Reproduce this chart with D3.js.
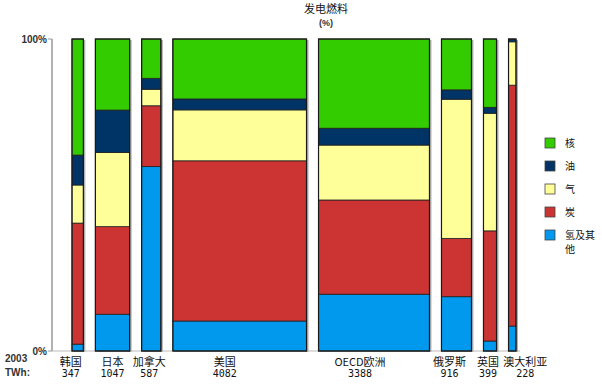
<!DOCTYPE html>
<meta charset="utf-8">
<style>
  body { margin: 0; background: #fff; }
  .cn { font-family: 'Noto Sans CJK SC', sans-serif; font-size: 11px; fill: #111; }
  .num { font-family: 'DejaVu Sans Mono', monospace; font-size: 10px; fill: #111; }
  .axlab { font-family: 'Liberation Sans', Arial, sans-serif; font-size: 10px; font-weight: bold; fill: #333; }
</style>
<script src="https://d3js.org/d3.v7.min.js"></script>
<div id="chart"></div>
<script>
// countries and 2003 generation (TWh) -> bar widths
var countries = ["韩国", "日本", "加拿大", "美国", "OECD欧洲", "俄罗斯", "英国", "澳大利亚"];
var twh = [347, 1047, 587, 4082, 3388, 916, 399, 228];

// fuel shares (%), bottom to top
var hydro   = [2.2, 11.8, 59.1, 9.6, 18.2, 17.4, 3.2, 8.0];
var coal    = [38.8, 28.1, 19.5, 51.3, 30.2, 18.7, 35.3, 77.2];
var gas     = [12.2, 23.8, 5.3, 16.3, 17.6, 44.6, 37.7, 13.9];
var oil     = [9.6, 13.6, 3.5, 3.5, 5.4, 3.0, 1.9, 0.9];
var nuclear = [37.2, 22.8, 12.6, 19.2, 28.6, 16.3, 21.9, 0];

var fuelKeys = ["hydro", "coal", "gas", "oil", "nuclear"];
var fuelNames = {nuclear: "核", oil: "油", gas: "气", coal: "炭", hydro: "氢及其他"};
var fuelColors = {nuclear: "#33cc00", oil: "#003366", gas: "#ffff99", coal: "#cc3333", hydro: "#0099ee"};
var yTicks = [0, 100];

// label nudges so names don't collide (px)
var labelShift = [-7, 0, -2, -15, -14, -7, -2, 13];

var W = 602, H = 388;
var plotLeft = 72, plotRight = 516, plotTop = 39, plotBottom = 351, gap = 12;

var svg = d3.select("#chart").append("svg")
  .attr("width", W).attr("height", H);

// build table
var rows = countries.map(function(c, i) {
  var tot = hydro[i] + coal[i] + gas[i] + oil[i] + nuclear[i];
  return {
    name: c, twh: twh[i], i: i,
    hydro: hydro[i] / tot * 100, coal: coal[i] / tot * 100, gas: gas[i] / tot * 100,
    oil: oil[i] / tot * 100, nuclear: nuclear[i] / tot * 100
  };
});

var totalTwh = d3.sum(twh);
var w = d3.scaleLinear()
  .domain([0, totalTwh])
  .range([0, plotRight - plotLeft - gap * (countries.length - 1)]);

var cum = 0;
rows.forEach(function(d, i) {
  d.x0 = plotLeft + w(cum) + i * gap;
  cum += d.twh;
  d.x1 = plotLeft + w(cum) + i * gap;
});

var y = d3.scaleLinear().domain([0, 100]).range([plotBottom, plotTop]);

// title
svg.append("text").attr("class", "cn")
  .attr("x", 326).attr("y", 13).attr("text-anchor", "middle")
  .style("font-size", "11px")
  .text("发电燃料");
svg.append("text").attr("class", "axlab")
  .attr("x", 326).attr("y", 26).attr("text-anchor", "middle")
  .style("font-size", "9px")
  .text("(%)");

// axis
svg.append("line")
  .attr("x1", 52).attr("x2", 52).attr("y1", y(100)).attr("y2", y(0))
  .attr("stroke", "#999").attr("stroke-width", 1.5);
svg.append("line")
  .attr("x1", 52).attr("x2", 520).attr("y1", y(0)).attr("y2", y(0))
  .attr("stroke", "#bbb").attr("stroke-width", 1);

yTicks.forEach(function(t) {
  svg.append("line")
    .attr("x1", 48).attr("x2", 52).attr("y1", y(t)).attr("y2", y(t))
    .attr("stroke", "#999");
  svg.append("text").attr("class", "axlab")
    .attr("x", 47).attr("y", y(t) + 4).attr("text-anchor", "end")
    .text(t + "%");
});

// bar shadows
svg.append("g").selectAll("rect")
  .data(rows).enter().append("rect")
    .attr("x", function(d) { return d.x0 + 2; })
    .attr("y", y(100) + 1)
    .attr("width", function(d) { return d.x1 - d.x0; })
    .attr("height", y(0) - y(100))
    .attr("fill", "#b0b0b0");

// stacked segments
var series = d3.stack().keys(fuelKeys)(rows);
svg.append("g").selectAll("g")
  .data(series).enter().append("g")
    .attr("fill", function(s) { return fuelColors[s.key]; })
  .selectAll("rect")
  .data(function(s) { return s; }).enter().append("rect")
    .attr("x", function(d) { return d.data.x0; })
    .attr("y", function(d) { return y(d[1]); })
    .attr("width", function(d) { return d.data.x1 - d.data.x0; })
    .attr("height", function(d) { return y(d[0]) - y(d[1]); })
    .attr("stroke", "#222").attr("stroke-width", 0.8);

// bar outlines
svg.append("g").selectAll("rect")
  .data(rows).enter().append("rect")
    .attr("x", function(d) { return d.x0; })
    .attr("y", y(100))
    .attr("width", function(d) { return d.x1 - d.x0; })
    .attr("height", y(0) - y(100))
    .attr("fill", "none")
    .attr("stroke", "#1a1a1a").attr("stroke-width", 1.2);

// bottom labels
svg.append("text").attr("class", "axlab").attr("x", 5).attr("y", 362).text("2003");
svg.append("text").attr("class", "axlab").attr("x", 5).attr("y", 376).text("TWh:");

svg.append("g").selectAll("text")
  .data(rows).enter().append("text")
    .attr("class", "cn")
    .attr("x", function(d) { return (d.x0 + d.x1) / 2 + labelShift[d.i]; })
    .attr("y", 366)
    .attr("text-anchor", "middle")
    .text(function(d) { return d.name; });

svg.append("g").selectAll("text")
  .data(rows).enter().append("text")
    .attr("class", "num")
    .attr("x", function(d) { return (d.x0 + d.x1) / 2 + labelShift[d.i]; })
    .attr("y", 377)
    .attr("text-anchor", "middle")
    .text(function(d) { return d.twh; });

// legend (top to bottom: 核 油 气 炭 氢及其他)
var legendKeys = fuelKeys.slice().reverse();
var lg = svg.append("g").selectAll("g")
  .data(legendKeys).enter().append("g")
    .attr("transform", function(k, i) { return "translate(545," + (138 + i * 23) + ")"; });
lg.append("rect")
  .attr("width", 10).attr("height", 10)
  .attr("fill", function(k) { return fuelColors[k]; })
  .attr("stroke", "#444").attr("stroke-width", 0.8);
lg.append("text").attr("class", "cn")
  .attr("x", 20).attr("y", 9)
  .style("font-size", "10px")
  .text(function(k) { return k === "hydro" ? "氢及其" : fuelNames[k]; });
lg.filter(function(k) { return k === "hydro"; })
  .append("text").attr("class", "cn")
  .attr("x", 20).attr("y", 23)
  .style("font-size", "10px")
  .text("他");
</script>
